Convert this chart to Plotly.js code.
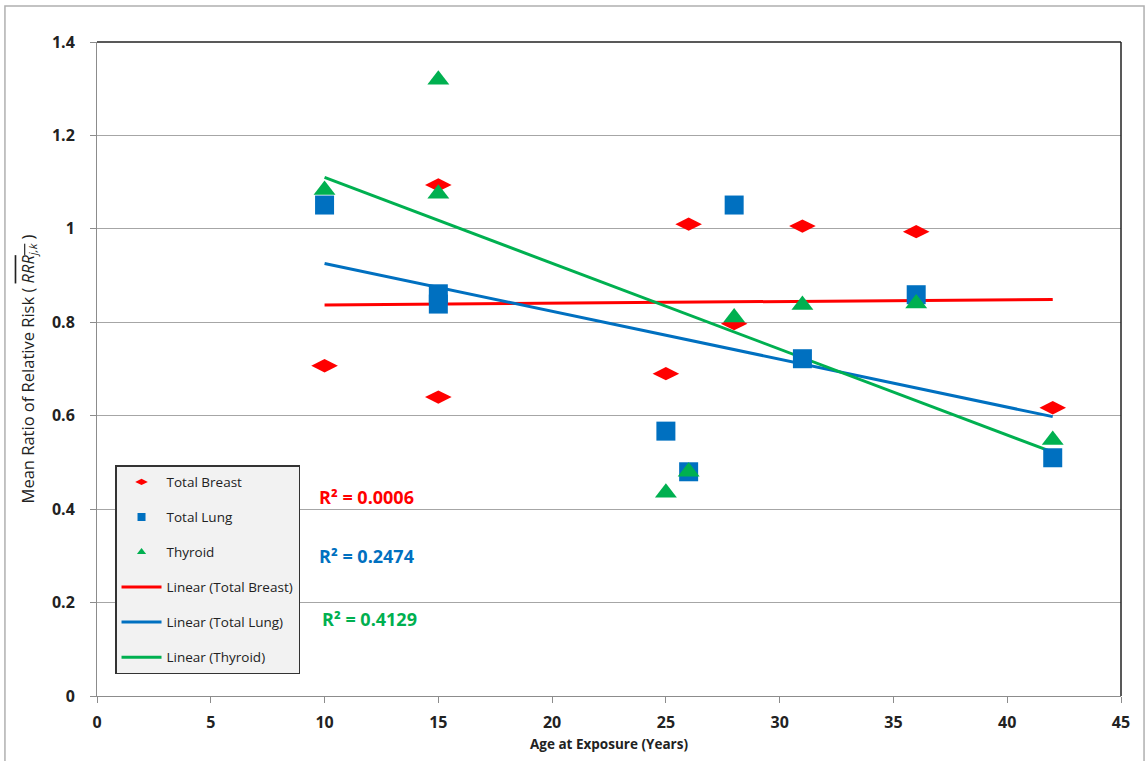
<!DOCTYPE html>
<html><head><meta charset="utf-8">
<script src="https://cdn.plot.ly/plotly-3.0.1.min.js"></script>
<style>html,body{margin:0;padding:0;background:#fff}#chart{width:1145px;height:761px}</style>
</head><body><div id="chart"></div>
<script>
// Data
const breastX = [10, 15, 15, 25, 26, 28, 31, 36, 42];
const breastY = [0.707, 0.640, 1.094, 0.690, 1.010, 0.797, 1.006, 0.994, 0.617];
const lungX = [10, 15, 15, 25, 26, 28, 31, 36, 42];
const lungY = [1.051, 0.861, 0.839, 0.567, 0.480, 1.051, 0.722, 0.859, 0.510];
const thyroidX = [10, 15, 15, 25, 26, 28, 31, 36, 42];
const thyroidY = [1.083, 1.319, 1.075, 0.435, 0.480, 0.810, 0.837, 0.840, 0.548];
const trendX = [10, 42];
const breastTrend = [0.837, 0.849];
const lungTrend = [0.926, 0.598];
const thyroidTrend = [1.110, 0.522];
const seriesNames = ["Total Breast", "Total Lung", "Thyroid"];
const trendNames = ["Linear (Total Breast)", "Linear (Total Lung)", "Linear (Thyroid)"];
const r2Labels = ["R² = 0.0006", "R² = 0.2474", "R² = 0.4129"];
const r2Y = [0.426, 0.30, 0.164];
const xTicks = [0, 5, 10, 15, 20, 25, 30, 35, 40, 45];
const yTicks = [0, 0.2, 0.4, 0.6, 0.8, 1, 1.2, 1.4];

const RED = '#ff0000', BLUE = '#0070c0', GREEN = '#00b050';
const FONT = '"Open Sans", Lato, sans-serif';
const cols = [RED, BLUE, GREEN];
const syms = ['diamond-wide', 'square', 'triangle-up'];
const sizes = [19, 19, 19];
const legSizes = [9, 8, 8];
const xs = [breastX, lungX, thyroidX];
const ys = [breastY, lungY, thyroidY];
const trends = [breastTrend, lungTrend, thyroidTrend];

const lineTraces = [], markerTraces = [], legendTraces = [];
for (let i = 0; i < 3; i++) {
  legendTraces.push({x: [null], y: [null], mode: 'markers', name: seriesNames[i], legendgroup: 'm' + i,
    legendrank: i + 1, marker: {symbol: syms[i], size: legSizes[i], color: cols[i]}, hoverinfo: 'skip'});
  lineTraces.push({x: trendX, y: trends[i], mode: 'lines', name: trendNames[i], legendgroup: 't' + i,
    legendrank: i + 4, line: {color: cols[i], width: 3}});
  markerTraces.push({x: xs[i], y: ys[i], mode: 'markers', name: seriesNames[i], showlegend: false,
    marker: {symbol: syms[i], size: sizes[i], color: cols[i]}});
}
const data = lineTraces.concat(markerTraces, legendTraces);

const annotations = r2Labels.map((t, i) => ({
  x: 9.68 + (i === 2 ? 0.1 : 0), y: r2Y[i], xref: 'x', yref: 'y', xanchor: 'left', yanchor: 'middle',
  text: '<b>' + t + '</b>', showarrow: false, font: {family: FONT, size: 18, color: cols[i]}
}));

const layout = {
  width: 1145, height: 761,
  margin: {l: 97, r: 24, t: 42, b: 65},
  paper_bgcolor: '#fff', plot_bgcolor: '#fff',
  font: {family: FONT, color: '#222'},
  showlegend: true,
  legend: {
    x: 0.0176, y: 0.353, xanchor: 'left', yanchor: 'top',
    bgcolor: '#f2f2f2', bordercolor: '#333', borderwidth: 1.5,
    font: {family: FONT, size: 13.5, color: '#222'},
    tracegroupgap: 14.5, itemwidth: 40, traceorder: 'grouped'
  },
  xaxis: {
    range: [0, 45], tickvals: xTicks, ticktext: xTicks.map(v => '<b>' + v + '</b>'),
    showgrid: false, zeroline: false, showline: true, linecolor: '#8c8c8c', linewidth: 1,
    ticks: 'outside', ticklen: 6, tickcolor: '#8c8c8c', ticklabelstandoff: 6,
    tickfont: {family: FONT, size: 16, color: '#222'},
    title: {text: '<b>Age at Exposure (Years)</b>', font: {family: FONT, size: 13.5, color: '#222'}, standoff: 7}
  },
  yaxis: {
    range: [0, 1.4], tickvals: yTicks, ticktext: yTicks.map(v => '<b>' + v + '</b>'),
    showgrid: true, gridcolor: '#a6a6a6', gridwidth: 1,
    zeroline: false, showline: true, linecolor: '#8c8c8c', linewidth: 1,
    ticks: 'outside', ticklen: 6, tickcolor: '#8c8c8c', ticklabelstandoff: 12,
    tickfont: {family: FONT, size: 16, color: '#222'},
    title: {text: 'Mean Ratio of Relative Risk ( <span style="text-decoration:overline"><i>RRR<sub>j,k</sub></i></span> )',
            font: {family: FONT, size: 16.5, color: '#222'}, standoff: 13}
  },
  shapes: [
    {type: 'line', xref: 'paper', yref: 'paper', x0: 0, x1: 1, y0: 1, y1: 1, line: {color: '#222', width: 1.5}},
    {type: 'line', xref: 'paper', yref: 'paper', x0: 1, x1: 1, y0: 0, y1: 1, line: {color: '#222', width: 1.5}},
    {type: 'rect', xref: 'paper', yref: 'paper', x0: -0.0899, x1: 1.0225, y0: -0.12, y1: 1.055,
     line: {color: '#b0b0b0', width: 1.5}, fillcolor: 'rgba(0,0,0,0)'}
  ],
  annotations: annotations
};

Plotly.newPlot('chart', data, layout, {displayModeBar: false, staticPlot: true});
</script></body></html>
